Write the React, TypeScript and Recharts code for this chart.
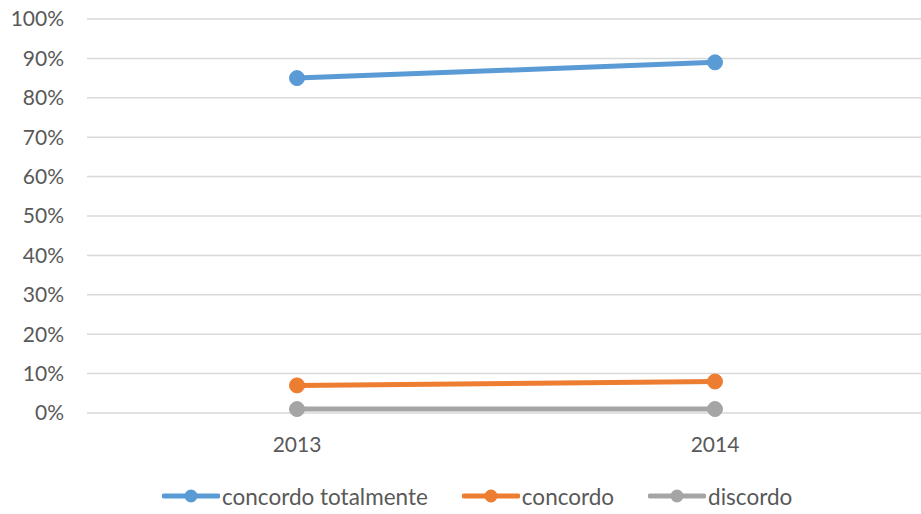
import { LineChart, Line, XAxis, YAxis, CartesianGrid, Legend } from 'recharts';

const years = ['2013', '2014'];
const concordoTotalmente = [85, 89];
const concordo = [7, 8];
const discordo = [1, 1];
const yTicks = [0, 10, 20, 30, 40, 50, 60, 70, 80, 90, 100];

const series = [
  { key: 'concordoTotalmente', name: 'concordo totalmente', color: '#5B9BD5' },
  { key: 'concordo', name: 'concordo', color: '#ED7D31' },
  { key: 'discordo', name: 'discordo', color: '#A5A5A5' },
];

const data = years.map((year, i) => ({
  year,
  concordoTotalmente: concordoTotalmente[i],
  concordo: concordo[i],
  discordo: discordo[i],
}));

const FONT = 'Lato, "Open Sans", sans-serif';
const TEXT = '#595959';

function LegendBox() {
  return (
    <div
      style={{
        height: 40,
        boxSizing: 'border-box',
        paddingTop: 4,
        paddingLeft: 162,
        display: 'flex',
        alignItems: 'center',
        fontFamily: FONT,
        fontSize: 22.5,
        color: TEXT,
      }}
    >
      {series.map((s) => (
        <div key={s.key} style={{ display: 'flex', alignItems: 'center', marginRight: 34 }}>
          <svg width={58} height={16} style={{ marginRight: 2 }}>
            <line x1={2} y1={8} x2={56} y2={8} stroke={s.color} strokeWidth={5} strokeLinecap="round" />
            <circle cx={29} cy={8} r={6.5} fill={s.color} />
          </svg>
          <span>{s.name}</span>
        </div>
      ))}
    </div>
  );
}

export default function App() {
  return (
    <div style={{ position: 'absolute', left: 0, top: 0, background: '#fff' }}>
      <LineChart width={921} height={514} data={data} margin={{ top: 19, right: 0, bottom: 0, left: 0 }}>
        <CartesianGrid vertical={false} stroke="#D9D9D9" strokeWidth={1.5} />
        <XAxis
          dataKey="year"
          height={61}
          padding={{ left: 210, right: 206 }}
          axisLine={false}
          tickLine={false}
          tickMargin={18}
          tick={{ fill: TEXT, fontSize: 21, fontFamily: FONT }}
        />
        <YAxis
          width={87}
          domain={[0, 100]}
          ticks={yTicks}
          interval={0}
          axisLine={false}
          tickLine={false}
          tickMargin={17}
          tickFormatter={(v) => `${v}%`}
          tick={{ fill: TEXT, fontSize: 21, fontFamily: FONT }}
        />
        <Legend verticalAlign="bottom" content={() => <LegendBox />} />
        {series.map((s) => (
          <Line
            key={s.key}
            dataKey={s.key}
            name={s.name}
            stroke={s.color}
            strokeWidth={5}
            dot={{ r: 7.5, fill: s.color, stroke: s.color, strokeWidth: 1 }}
            activeDot={false}
            isAnimationActive={false}
          />
        ))}
      </LineChart>
    </div>
  );
}
